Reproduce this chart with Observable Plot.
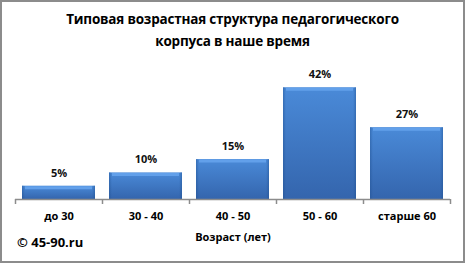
<!DOCTYPE html>
<html><head><meta charset="utf-8">
<script src="https://cdn.jsdelivr.net/npm/d3@7"></script>
<script src="https://cdn.jsdelivr.net/npm/@observablehq/plot@0.6"></script>
<style>
body{margin:0;background:#fff;}
#wrap{position:relative;width:465px;height:263px;overflow:hidden;font-family:"Open Sans",sans-serif;}
#frame{position:absolute;left:0;top:0;width:461px;height:259px;border:2px solid #8c8c8c;pointer-events:none;}
.title{position:absolute;left:0;width:465px;text-align:center;font-weight:bold;font-size:13.5px;color:#000;letter-spacing:-0.2px;}
#copy{position:absolute;left:17px;top:233px;font-weight:bold;font-size:13px;}
</style></head>
<body><div id="wrap"><div id="chart"></div>
<div class="title" style="top:10px">Типовая возрастная структура педагогического</div>
<div class="title" style="top:32px">корпуса в наше время</div>
<div id="copy">© 45-90.ru</div>
<div id="frame"></div></div>
<script>
const categories = ["до 30", "30 - 40", "40 - 50", "50 - 60", "старше 60"];
const values = [5, 10, 15, 42, 27];
const xLabel = "Возраст (лет)";

const data = categories.map((c, i) => ({cat: c, v: values[i]}));
const W = 465, ML = 15, MR = 15;
const step = (W - ML - MR) / categories.length;

const chart = Plot.plot({
  width: W, height: 263,
  marginLeft: ML, marginRight: MR, marginTop: 66, marginBottom: 64,
  style: {fontFamily: "Open Sans, sans-serif", fontSize: "11px", color: "#000", background: "transparent"},
  x: {domain: categories, paddingInner: 0.16, paddingOuter: 0.08, label: xLabel},
  y: {domain: [0, 50], axis: null},
  marks: [
    () => { const s = d3.create("svg:defs");
      const g = s.append("linearGradient").attr("id","barg").attr("x1",0).attr("y1",0).attr("x2",0).attr("y2",1);
      g.append("stop").attr("offset","0%").attr("stop-color","#4a8ad8");
      g.append("stop").attr("offset","100%").attr("stop-color","#3465ad");
      const h = s.append("linearGradient").attr("id","edge").attr("x1",0).attr("y1",0).attr("x2",1).attr("y2",0);
      h.append("stop").attr("offset","0%").attr("stop-color","#1f4f8f").attr("stop-opacity",0.45);
      h.append("stop").attr("offset","4%").attr("stop-color","#1f4f8f").attr("stop-opacity",0);
      h.append("stop").attr("offset","96%").attr("stop-color","#1f4f8f").attr("stop-opacity",0);
      h.append("stop").attr("offset","100%").attr("stop-color","#1f4f8f").attr("stop-opacity",0.45);
      return s.node(); },
    Plot.barY(data, {x: "cat", y: "v", fill: "url(#barg)"}),
    Plot.barY(data, {x: "cat", y: "v", fill: "url(#edge)"}),
    Plot.tickY(data, {x: "cat", y: "v", stroke: "#62a0ea", strokeWidth: 3, dy: 1.5, inset: 3}),
    Plot.ruleY([0], {stroke: "#8c8c8c", strokeWidth: 1.5}),
    Plot.ruleX(categories, {x: d => d, y1: 0, y2: 0, dx: -step/2, stroke: "#8c8c8c", strokeWidth: 1.5, insetBottom: -5}),
    Plot.ruleX([categories[categories.length-1]], {x: d => d, y1: 0, y2: 0, dx: step/2, stroke: "#8c8c8c", strokeWidth: 1.5, insetBottom: -5}),
    Plot.text(data, {x: "cat", y: "v", text: d => d.v + "%", dy: -13, fontSize: 11, fontWeight: "bold", fill: "#111"}),
    Plot.axisX({tickSize: 0, tickPadding: 13, fontSize: 11, fontWeight: "bold", label: null}),
    Plot.text([xLabel], {frameAnchor: "bottom", dy: 41, fontSize: 11, fontWeight: "bold"})
  ]
});
document.getElementById("chart").appendChild(chart);
</script></body></html>
